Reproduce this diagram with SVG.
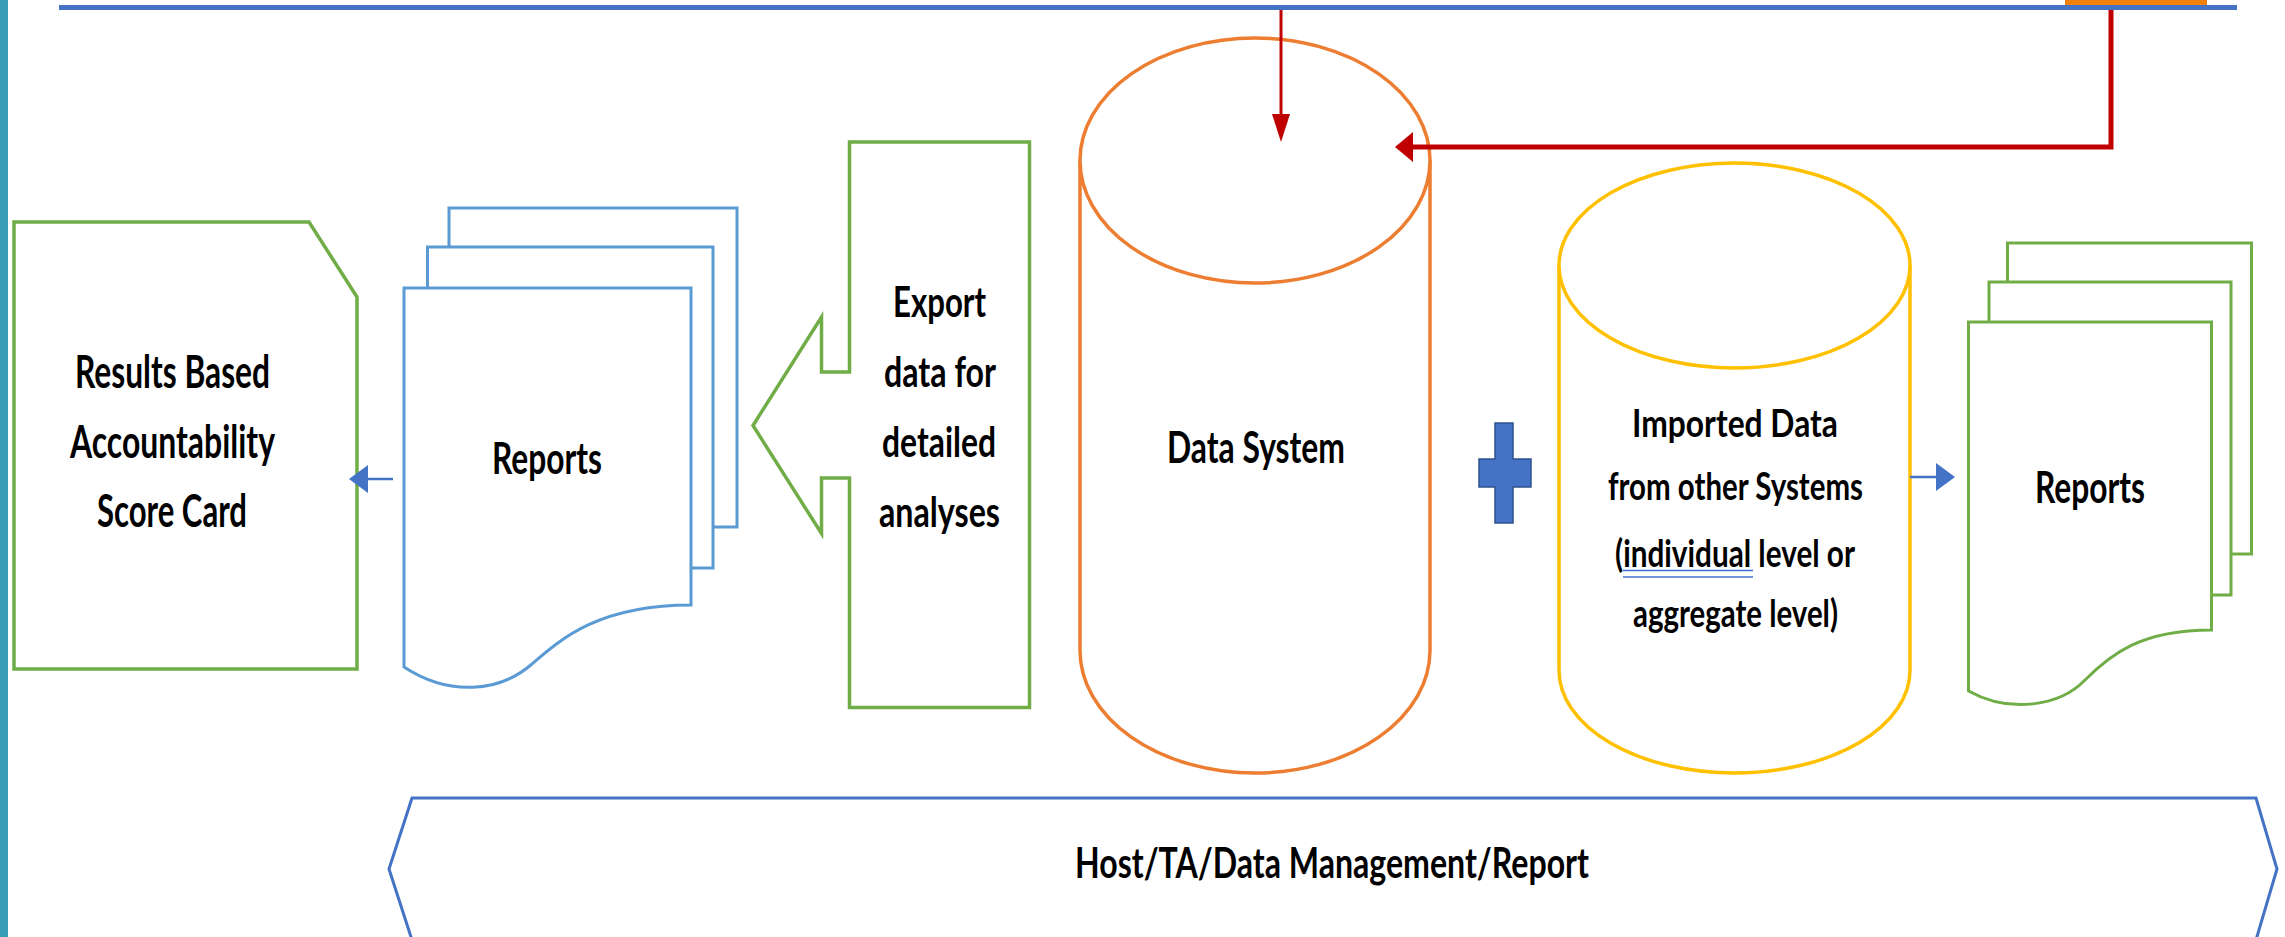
<svg xmlns="http://www.w3.org/2000/svg" width="2285" height="937" viewBox="0 0 2285 937">
  <style>
    .lbl { font-family: "Lato", "Liberation Sans", sans-serif; font-weight: 700; fill: #000000; text-anchor: middle; }
    .green { fill: #FFFFFF; stroke: #70AD47; stroke-width: 3.5; stroke-linejoin: miter; }
    .bluepage { fill: #FFFFFF; stroke: #5B9BD5; stroke-width: 3; }
    .greenpage { fill: #FFFFFF; stroke: #70AD47; stroke-width: 3; }
    .red { fill: none; stroke: #C00000; }
    .bluearrow { fill: none; stroke: #4472C4; stroke-width: 2.5; }
  </style>
  <defs>
    <marker id="redHeadDown" markerUnits="userSpaceOnUse" markerWidth="28" markerHeight="18" viewBox="0 0 28 18" refX="0" refY="9" orient="auto">
      <path d="M0,0 L28,9 L0,18 Z" fill="#C00000"/>
    </marker>
    <marker id="redHeadWide" markerUnits="userSpaceOnUse" markerWidth="18" markerHeight="30" viewBox="0 0 18 30" refX="0" refY="15" orient="auto">
      <path d="M0,0 L18,15 L0,30 Z" fill="#C00000"/>
    </marker>
    <marker id="blueHead" markerUnits="userSpaceOnUse" markerWidth="19" markerHeight="28" viewBox="0 0 19 28" refX="0" refY="14" orient="auto">
      <path d="M0,0 L19,14 L0,28 Z" fill="#4472C4"/>
    </marker>
  </defs>

  <rect x="0" y="0" width="2285" height="937" fill="#FFFFFF"/>

  <!-- frame pieces along the edges -->
  <g id="frame">
    <rect x="0" y="0" width="8" height="937" fill="#3A9DB7"/>
    <rect x="2065" y="0" width="142" height="6" fill="#F0800A"/>
    <line x1="59" y1="7.5" x2="2237" y2="7.5" stroke="#4472C4" stroke-width="5"/>
  </g>

  <!-- score card -->
  <g id="score-card">
    <path class="green" d="M14,222 H309 L357,297 V669 H14 Z"/>
    <text class="lbl" font-size="46" x="172.5" y="388" textLength="195" lengthAdjust="spacingAndGlyphs">Results Based</text>
    <text class="lbl" font-size="46" x="172.5" y="458" textLength="205" lengthAdjust="spacingAndGlyphs">Accountability</text>
    <text class="lbl" font-size="46" x="172" y="527" textLength="150" lengthAdjust="spacingAndGlyphs">Score Card</text>
  </g>

  <!-- left report stack -->
  <g id="reports-left">
    <rect class="bluepage" x="449" y="208" width="288" height="319"/>
    <rect class="bluepage" x="427.5" y="247" width="285.5" height="321"/>
    <path class="bluepage" d="M404,288 H691 V605 C600,605 562,638 532,664 C500,692 450,697 404,667 Z"/>
    <text class="lbl" font-size="43" x="547" y="474" textLength="110" lengthAdjust="spacingAndGlyphs">Reports</text>
  </g>

  <!-- export callout -->
  <g id="export">
    <path class="green" d="M849.5,142 H1029.5 V707.5 H849.5 V478 H821.5 V533.5 L753,425.5 L821.5,317 V372 H849.5 Z"/>
    <text class="lbl" font-size="42" x="939.5" y="317" textLength="93" lengthAdjust="spacingAndGlyphs">Export</text>
    <text class="lbl" font-size="42" x="940" y="387" textLength="112" lengthAdjust="spacingAndGlyphs">data for</text>
    <text class="lbl" font-size="42" x="939" y="457" textLength="114" lengthAdjust="spacingAndGlyphs">detailed</text>
    <text class="lbl" font-size="42" x="939.5" y="527" textLength="121" lengthAdjust="spacingAndGlyphs">analyses</text>
  </g>

  <!-- data system cylinder -->
  <g id="data-system">
    <path d="M1080,160.5 V650.5 A175,122.5 0 0 0 1430,650.5 V160.5" fill="#FFFFFF" stroke="#ED7D31" stroke-width="3.5"/>
    <ellipse cx="1255" cy="160.5" rx="175" ry="122.5" fill="#FFFFFF" stroke="#ED7D31" stroke-width="3.5"/>
    <text class="lbl" font-size="44" x="1256" y="463" textLength="178" lengthAdjust="spacingAndGlyphs">Data System</text>
  </g>

  <!-- plus sign -->
  <g id="plus">
    <path d="M1495,423 H1513 V459 H1531 V487 H1513 V523 H1495 V487 H1479 V459 H1495 Z" fill="#4472C4" stroke="#2F528F" stroke-width="1.5"/>
  </g>

  <!-- imported data cylinder -->
  <g id="imported-data">
    <path d="M1559,265.5 V670.5 A175.5,102.5 0 0 0 1910,670.5 V265.5" fill="#FFFFFF" stroke="#FFC000" stroke-width="3.5"/>
    <ellipse cx="1734.5" cy="265.5" rx="175.5" ry="102.5" fill="#FFFFFF" stroke="#FFC000" stroke-width="3.5"/>
    <text class="lbl" font-size="38" x="1735" y="437" textLength="206" lengthAdjust="spacingAndGlyphs">Imported Data</text>
    <text class="lbl" font-size="38" x="1735.5" y="500" textLength="255" lengthAdjust="spacingAndGlyphs">from other Systems</text>
    <text class="lbl" font-size="38" x="1735" y="567" textLength="240" lengthAdjust="spacingAndGlyphs">(individual level or</text>
    <text class="lbl" font-size="38" x="1735.5" y="627" textLength="205" lengthAdjust="spacingAndGlyphs">aggregate level)</text>
    <line x1="1623" y1="570.5" x2="1753" y2="570.5" stroke="#3F6FD6" stroke-width="1.5"/>
    <line x1="1623" y1="577" x2="1753" y2="577" stroke="#3F6FD6" stroke-width="1.5"/>
  </g>

  <!-- right report stack -->
  <g id="reports-right">
    <rect class="greenpage" x="2007.5" y="243" width="244" height="311"/>
    <rect class="greenpage" x="1989" y="282" width="242" height="313"/>
    <path class="greenpage" d="M1968.5,322 H2211.5 V630 C2140,630 2110,655 2085,680 C2060,706 2010,714 1968.5,691 Z"/>
    <text class="lbl" font-size="43" x="2090" y="503" textLength="110" lengthAdjust="spacingAndGlyphs">Reports</text>
  </g>

  <!-- host banner -->
  <g id="host-banner">
    <path d="M412,798 H2256 L2277,869 L2256,940 H412 L389,869 Z" fill="#FFFFFF" stroke="#4472C4" stroke-width="3"/>
    <text class="lbl" font-size="42" x="1332" y="878" textLength="514" lengthAdjust="spacingAndGlyphs">Host/TA/Data Management/Report</text>
  </g>

  <!-- connectors -->
  <g id="connectors">
    <path class="red" stroke-width="3" d="M1281,10 V114" marker-end="url(#redHeadDown)"/>
    <path class="red" stroke-width="5" d="M2111,10 V147 H1413" marker-end="url(#redHeadWide)"/>
    <path class="bluearrow" d="M393,479 H368" marker-end="url(#blueHead)"/>
    <path class="bluearrow" d="M1910,477 H1936" marker-end="url(#blueHead)"/>
  </g>
</svg>
